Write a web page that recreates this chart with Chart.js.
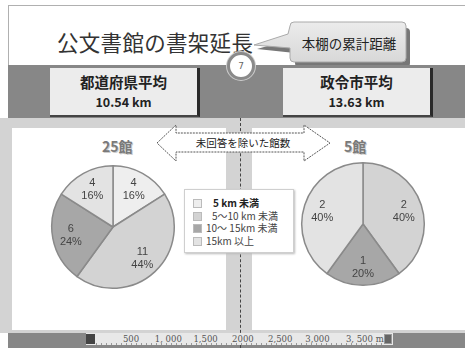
<!DOCTYPE html>
<html><head><meta charset="utf-8">
<script src="https://cdn.jsdelivr.net/npm/chart.js@4/dist/chart.umd.min.js"></script>
<style>
html,body{margin:0;padding:0;}
body{width:465px;height:348px;position:relative;overflow:hidden;background:#fff;font-family:"Noto Sans CJK JP","Noto Sans",sans-serif;}
.abs{position:absolute;}
#topframe{left:8px;top:5px;width:470px;height:60px;border-left:1px solid #b0b0b0;border-top:1px solid #b0b0b0;}
#title{left:57px;top:26px;font-size:21.5px;color:#333;letter-spacing:0.3px;white-space:nowrap;}
#band{left:8px;top:65px;width:457px;height:283px;background:#878787;}
#lower{left:0px;top:118px;width:465px;height:215px;background:#d3d3d3;}
.panel{background:#fff;}
.avg{background:#ececec;border-right:3px solid #2a2a2a;border-bottom:2px solid #444;text-align:center;color:#222;font-weight:bold;}
.avg .a{font-size:14.5px;margin-top:5px;line-height:18px;}
.avg .b{font-size:12.5px;line-height:18px;margin-top:2px;}
#ring{left:227px;top:52px;width:22px;height:22px;border-radius:50%;background:#fff;border:3px solid #8a8a8a;box-shadow:0 0 0 1px #ccc;text-align:center;font-size:9px;line-height:22px;color:#666;font-family:"DejaVu Sans";}
.ptitle{font-size:14px;font-weight:bold;color:#7a7a7a;text-shadow:1px 1px 0 #ccc;white-space:nowrap;}
#legend{left:184px;top:189px;width:108px;height:62px;background:#fff;border:1px solid #cfcfcf;box-shadow:1px 1px 2px #bbb;}
.li{position:absolute;font-size:10px;color:#444;white-space:nowrap;line-height:12px;}
.sw{position:absolute;width:7px;height:7px;border:1px solid #bbb;}
#ruler{left:86px;top:333px;width:307px;height:12px;background:#e8e8e8;}
.rt{position:absolute;top:1px;font-family:"DejaVu Serif","Liberation Serif",serif;font-size:8.5px;color:#555;white-space:nowrap;transform:translateX(-50%);}
#vline{left:240px;top:118px;width:0;height:230px;border-left:1px dashed #444;}
</style></head>
<body>
<div id="topframe" class="abs"></div>
<div id="title" class="abs">公文書館の書架延長</div>
<svg class="abs" style="left:250px;top:14px" width="165" height="56">
  <defs><linearGradient id="cg" x1="0" y1="0" x2="0" y2="1"><stop offset="0" stop-color="#ececec"/><stop offset="1" stop-color="#d8d8d8"/></linearGradient></defs>
  <path d="M43,15 Q43,11 47,11 L154,11 Q158,11 158,15 L158,46 Q158,50 154,50 L47,50 Q43,50 43,46 L43,36 L5,32 L40,22 Z" fill="#777" transform="translate(2,3)"/>
  <path d="M40,12 Q40,8 44,8 L152,8 Q156,8 156,12 L156,44 Q156,48 152,48 L44,48 Q40,48 40,44 L40,34 L4,31 L38,20 Z" fill="url(#cg)" stroke="#aaa" stroke-width="1"/>
  <text x="99" y="35" text-anchor="middle" font-size="13.5" fill="#222" font-family="Noto Sans CJK JP">本棚の累計距離</text>
</svg>
<div id="band" class="abs"></div>
<div id="lower" class="abs"></div>
<div class="abs panel" style="left:12px;top:128px;width:214px;height:202px"></div>
<div class="abs panel" style="left:252px;top:128px;width:213px;height:202px"></div>
<div id="vline" class="abs"></div>
<div class="abs avg" style="left:50px;top:68px;width:147px;height:47px"><div class="a">都道府県平均</div><div class="b">10.54 km</div></div>
<div class="abs avg" style="left:283px;top:68px;width:147px;height:47px"><div class="a">政令市平均</div><div class="b">13.63 km</div></div>
<div id="ring" class="abs">7</div>

<svg class="abs" style="left:150px;top:122px" width="190" height="44">
  <path d="M7,21 L26,3 L26,11 L154,11 L154,3 L180,21 L154,39 L154,30 L26,30 L26,39 Z" fill="#fff" stroke="#555" stroke-width="1" stroke-dasharray="2,1"/>
  <text x="93" y="25" text-anchor="middle" font-size="10.5" fill="#222" font-family="Noto Sans CJK JP">未回答を除いた館数</text>
</svg>

<div id="t1" class="abs ptitle" style="left:102px;top:136px">25館</div>
<div id="t2" class="abs ptitle" style="left:344px;top:136px">5館</div>

<div class="abs" style="left:49px;top:163px;width:128px;height:128px"><canvas id="pie1"></canvas></div>
<div class="abs" style="left:299px;top:160px;width:128px;height:128px"><canvas id="pie2"></canvas></div>

<div id="legend" class="abs"></div>

<div id="ruler" class="abs"></div>
<div class="abs" style="left:86px;top:334px;width:9px;height:10px;background:#444"></div>
<div class="abs" style="left:384px;top:334px;width:8px;height:10px;background:#666;border:1px solid #999;box-sizing:border-box"></div>
<div id="rulerTicks" class="abs" style="left:0;top:333px;width:465px;height:12px"></div>

<script>
// ---- data ----
const categories = ["5 km 未満", "5～10 km 未満", "10～ 15km 未満", "15km 以上"];
const prefValues = [4, 11, 6, 4];   // 都道府県 (25館)
const cityValues = [0, 2, 1, 2];    // 政令市 (5館)
const sliceColors = ["#eeeeee", "#d3d3d3", "#a7a7a7", "#e3e3e3"];
const rulerLabels = ["500", "1, 000", "1,500", "2000", "2,500", "3,000", "3, 500 m"];

// legend
const legend = document.getElementById('legend');
const legendTextX = [28, 27, 21, 21];
categories.forEach((c, i) => {
  const sw = document.createElement('div');
  sw.className = 'sw';
  sw.style.left = '8px'; sw.style.top = (9 + i * 12.5) + 'px';
  sw.style.background = sliceColors[i];
  legend.appendChild(sw);
  const t = document.createElement('div');
  t.className = 'li';
  t.style.left = legendTextX[i] + 'px'; t.style.top = (7 + i * 12.5) + 'px';
  t.textContent = c;
  if (i === 0) { t.style.fontWeight = 'bold'; t.style.color = '#222'; }
  legend.appendChild(t);
});

// ruler labels
const rt = document.getElementById('rulerTicks');
rulerLabels.forEach((l, i) => {
  const d = document.createElement('div');
  d.className = 'rt';
  d.style.left = (131 + i * 37.3 + (i === 6 ? 10 : 0)) + 'px';
  d.textContent = l;
  rt.appendChild(d);
});
for (let x = 96; x < 384; x += 5) {
  const m = document.createElement('div');
  m.style.cssText = 'position:absolute;top:10px;width:1px;height:2px;background:#999;left:' + x + 'px';
  rt.appendChild(m);
}

const sliceLabels = {
  id: 'sliceLabels',
  afterDatasetsDraw(chart) {
    const ctx = chart.ctx;
    const data = chart.data.datasets[0].data;
    const total = data.reduce((a, b) => a + b, 0);
    chart.getDatasetMeta(0).data.forEach((arc, i) => {
      const v = data[i];
      if (!v) return;
      const p = arc.getProps(['x', 'y', 'startAngle', 'endAngle', 'outerRadius'], true);
      const mid = (p.startAngle + p.endAngle) / 2;
      const r = p.outerRadius * 0.7;
      const x = p.x + Math.cos(mid) * r, y = p.y + Math.sin(mid) * r;
      ctx.save();
      ctx.fillStyle = '#444';
      ctx.font = '11px "Liberation Sans", Arial, sans-serif';
      ctx.textAlign = 'center';
      ctx.textBaseline = 'middle';
      ctx.fillText(String(v), x, y - 6);
      ctx.fillText(Math.round(v / total * 100) + '%', x, y + 7);
      ctx.restore();
    });
  }
};

function makePie(id, values) {
  new Chart(document.getElementById(id), {
    type: 'pie',
    data: {
      labels: categories,
      datasets: [{ data: values, backgroundColor: sliceColors, borderColor: '#8a8a8a', borderWidth: 1.5 }]
    },
    options: {
      responsive: true, maintainAspectRatio: false, animation: false,
      layout: { padding: 2 },
      plugins: { legend: { display: false }, tooltip: { enabled: false } }
    },
    plugins: [sliceLabels]
  });
}
makePie('pie1', prefValues);
makePie('pie2', cityValues);
</script>
</body></html>
